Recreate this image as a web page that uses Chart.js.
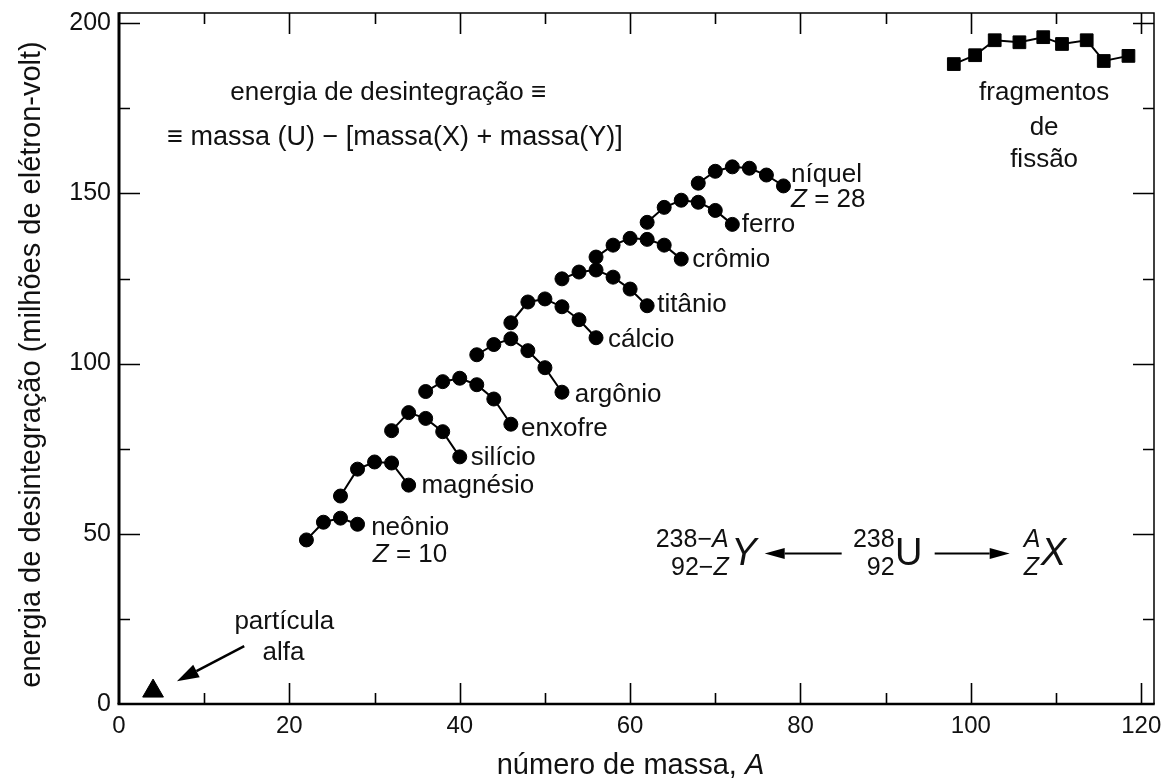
<!DOCTYPE html>
<html>
<head>
<meta charset="utf-8">
<script src="https://cdn.jsdelivr.net/npm/chart.js@4"></script>
<style>
  html, body { margin: 0; padding: 0; background: #fff; }
  #wrap { width: 1167px; height: 783px; }
</style>
</head>
<body>
<div id="wrap"><canvas id="c" width="1167" height="783"></canvas></div>
<script>
// ---- data ----
const neonA = [22, 24, 26, 28];
const neonE = [48.2, 53.4, 54.6, 52.8];
const magA = [26, 28, 30, 32, 34];
const magE = [61.1, 69.0, 71.1, 70.8, 64.3];
const siA = [32, 34, 36, 38, 40];
const siE = [80.3, 85.6, 83.9, 80.0, 72.6];
const sA = [36, 38, 40, 42, 44, 46];
const sE = [91.8, 94.7, 95.7, 93.8, 89.6, 82.2];
const arA = [42, 44, 46, 48, 50, 52];
const arE = [102.6, 105.6, 107.3, 103.8, 98.8, 91.6];
const caA = [46, 48, 50, 52, 54, 56];
const caE = [112.0, 118.1, 119.0, 116.7, 112.9, 107.6];
const tiA = [52, 54, 56, 58, 60, 62];
const tiE = [124.9, 126.9, 127.5, 125.4, 121.9, 117.0];
const crA = [56, 58, 60, 62, 64, 66];
const crE = [131.3, 134.8, 136.8, 136.5, 134.8, 130.7];
const feA = [62, 64, 66, 68, 70, 72];
const feE = [141.5, 145.9, 148.0, 147.4, 145.0, 140.9];
const niA = [68, 70, 72, 74, 76, 78];
const niE = [153.0, 156.5, 157.8, 157.4, 155.4, 152.2];
const fisA = [98, 100.5, 102.8, 105.7, 108.5, 110.7, 113.6, 115.6, 118.5];
const fisE = [188.0, 190.6, 195.0, 194.4, 195.9, 193.9, 195.0, 188.9, 190.4];
const alfaA = [4];
const alfaE = [3.8];

const xTicks = [0, 20, 40, 60, 80, 100, 120];
const yTicks = [0, 50, 100, 150, 200];
const xMinorStep = 10;
const yMinorStep = 25;

// ---- styling ----
const FONT = "'Liberation Sans', Arial, Helvetica, sans-serif";
const INK = '#111';
function fnt(size, italic) { return (italic ? 'italic ' : '') + size + 'px ' + FONT; }

function series(A, E, style, radius) {
  return {
    data: A.map((a, i) => ({ x: a, y: E[i] })),
    showLine: true,
    borderColor: '#000',
    borderWidth: 2,
    pointStyle: style,
    pointRadius: radius,
    pointHoverRadius: radius,
    pointBackgroundColor: '#000',
    pointBorderColor: '#000',
    pointBorderWidth: 1
  };
}

const datasets = [
  series(neonA, neonE, 'circle', 7),
  series(magA, magE, 'circle', 7),
  series(siA, siE, 'circle', 7),
  series(sA, sE, 'circle', 7),
  series(arA, arE, 'circle', 7),
  series(caA, caE, 'circle', 7),
  series(tiA, tiE, 'circle', 7),
  series(crA, crE, 'circle', 7),
  series(feA, feE, 'circle', 7),
  series(niA, niE, 'circle', 7),
  series(fisA, fisE, 'rect', 9),
  series(alfaA, alfaE, 'triangle', 12)
];

// annotation texts (positions in data units)
const labels = [
  { parts: [['neônio']], A: 29.6, E: 51.8 },
  { parts: [['Z', true], [' = 10']], A: 29.8, E: 43.8 },
  { parts: [['magnésio']], A: 35.5, E: 64.0 },
  { parts: [['silício']], A: 41.3, E: 72.2 },
  { parts: [['enxofre']], A: 47.2, E: 80.7 },
  { parts: [['argônio']], A: 53.5, E: 90.9 },
  { parts: [['cálcio']], A: 57.4, E: 107.0 },
  { parts: [['titânio']], A: 63.2, E: 117.3 },
  { parts: [['crômio']], A: 67.3, E: 130.4 },
  { parts: [['ferro']], A: 73.1, E: 140.9 },
  { parts: [['níquel']], A: 78.9, E: 155.6 },
  { parts: [['Z', true], [' = 28']], A: 78.9, E: 148.0 },
  { parts: [['fragmentos']], A: 108.6, E: 179.5, align: 'center' },
  { parts: [['de']], A: 108.6, E: 169.3, align: 'center' },
  { parts: [['fissão']], A: 108.6, E: 159.9, align: 'center' },
  { parts: [['partícula']], A: 19.4, E: 24.0, align: 'center' },
  { parts: [['alfa']], A: 19.3, E: 14.9, align: 'center' },
  { parts: [['energia de desintegração ≡']], A: 31.6, E: 179.5, align: 'center' },
  { parts: [['≡ massa (U) − [massa(X) + massa(Y)]']], A: 32.4, E: 166.4, align: 'center', size: 27 }
];

function drawRuns(ctx, parts, x, y, align, size) {
  let w = 0;
  for (const [t, it] of parts) { ctx.font = fnt(size, it); w += ctx.measureText(t).width; }
  let cx = align === 'center' ? x - w / 2 : (align === 'right' ? x - w : x);
  ctx.textAlign = 'left';
  for (const [t, it] of parts) {
    ctx.font = fnt(size, it);
    ctx.fillText(t, cx, y);
    cx += ctx.measureText(t).width;
  }
}

function arrow(ctx, x1, y1, x2, y2, headLen, headW) {
  const ang = Math.atan2(y2 - y1, x2 - x1);
  const bx = x2 - Math.cos(ang) * headLen, by = y2 - Math.sin(ang) * headLen;
  ctx.beginPath(); ctx.moveTo(x1, y1); ctx.lineTo(bx, by); ctx.stroke();
  ctx.beginPath();
  ctx.moveTo(x2, y2);
  ctx.lineTo(bx + Math.sin(ang) * headW, by - Math.cos(ang) * headW);
  ctx.lineTo(bx - Math.sin(ang) * headW, by + Math.cos(ang) * headW);
  ctx.closePath(); ctx.fill();
}

const decor = {
  id: 'decor',
  afterDraw(chart) {
    const { ctx, chartArea: a, scales: { x, y } } = chart;
    ctx.save();
    ctx.strokeStyle = '#000';
    ctx.fillStyle = INK;
    ctx.lineCap = 'butt';
    // frame
    ctx.lineWidth = 1.5;
    ctx.beginPath();
    ctx.moveTo(a.left, a.top); ctx.lineTo(a.right, a.top); ctx.lineTo(a.right, a.bottom);
    ctx.stroke();
    ctx.lineWidth = 3;
    ctx.beginPath(); ctx.moveTo(a.left, a.top - 0.75); ctx.lineTo(a.left, a.bottom); ctx.stroke();
    ctx.lineWidth = 2.5;
    ctx.beginPath(); ctx.moveTo(a.left - 1.5, a.bottom); ctx.lineTo(a.right + 0.75, a.bottom); ctx.stroke();
    // x ticks (bottom & top), inward
    ctx.lineWidth = 1.6;
    for (let v = xMinorStep; v <= x.max; v += xMinorStep) {
      const px = Math.round(x.getPixelForValue(v)) + 0.5;
      const major = xTicks.includes(v);
      const len = major ? 21 : 11;
      ctx.beginPath();
      ctx.moveTo(px, a.bottom); ctx.lineTo(px, a.bottom - len);
      ctx.moveTo(px, a.top); ctx.lineTo(px, a.top + len);
      ctx.stroke();
    }
    // y ticks (left & right), inward
    for (let v = yMinorStep; v <= y.max; v += yMinorStep) {
      const py = Math.round(y.getPixelForValue(v)) + 0.5;
      const major = yTicks.includes(v);
      const len = major ? 21 : 11;
      ctx.beginPath();
      ctx.moveTo(a.left, py); ctx.lineTo(a.left + len, py);
      ctx.moveTo(a.right, py); ctx.lineTo(a.right - len, py);
      ctx.stroke();
    }
    // axis titles
    ctx.textBaseline = 'middle';
    drawRuns(ctx, [['número de massa, '], ['A', true]], (a.left + a.right) / 2 - 6, 766, 'center', 29);
    ctx.save();
    ctx.translate(32, (a.top + a.bottom) / 2 + 6);
    ctx.rotate(-Math.PI / 2);
    drawRuns(ctx, [['energia de desintegração (milhões de elétron-volt)']], 0, 0, 'center', 29);
    ctx.restore();

    // labels
    for (const l of labels) {
      drawRuns(ctx, l.parts, x.getPixelForValue(l.A), y.getPixelForValue(l.E), l.align || 'left', l.size || 26);
    }

    // alpha arrow
    ctx.strokeStyle = '#000'; ctx.fillStyle = '#000'; ctx.lineWidth = 2.5;
    arrow(ctx, x.getPixelForValue(14.7), y.getPixelForValue(17.0),
               x.getPixelForValue(6.8), y.getPixelForValue(6.7), 22, 7);

    // reaction formula, anchored on the U
    const Px = x.getPixelForValue(92.7), Py = y.getPixelForValue(44.2);
    const big = 38, sm = 25;
    const supY = Py - 13, subY = Py + 15;
    ctx.fillStyle = INK;
    ctx.textBaseline = 'middle';
    drawRuns(ctx, [['U']], Px, Py + 1, 'center', big);
    drawRuns(ctx, [['238']], Px - 14, supY, 'right', sm);
    drawRuns(ctx, [['92']], Px - 14, subY, 'right', sm);
    drawRuns(ctx, [['Y', true]], Px - 152, Py + 1, 'right', big);
    drawRuns(ctx, [['238−'], ['A', true]], Px - 180, supY, 'right', sm);
    drawRuns(ctx, [['92−'], ['Z', true]], Px - 180, subY, 'right', sm);
    drawRuns(ctx, [['A', true]], Px + 115, supY, 'left', sm);
    drawRuns(ctx, [['Z', true]], Px + 115, subY, 'left', sm);
    drawRuns(ctx, [['X', true]], Px + 132, Py + 1, 'left', big);
    ctx.lineWidth = 2;
    ctx.fillStyle = '#000';
    arrow(ctx, Px - 67, Py, Px - 144, Py, 20, 5.5);
    arrow(ctx, Px + 26, Py, Px + 101, Py, 20, 5.5);
    ctx.restore();
  }
};

new Chart(document.getElementById('c'), {
  type: 'scatter',
  data: { datasets },
  options: {
    responsive: false,
    animation: false,
    events: [],
    layout: { padding: { top: 10, right: 9, bottom: 0, left: 0 } },
    plugins: { legend: { display: false }, tooltip: { enabled: false } },
    scales: {
      x: {
        type: 'linear', min: 0, max: 121.5,
        grid: { display: false, drawTicks: false },
        border: { display: false },
        afterBuildTicks: s => { s.ticks = xTicks.map(v => ({ value: v })); },
        afterFit: s => { s.height = 79; s.paddingLeft = 0; s.paddingRight = 0; },
        ticks: { autoSkip: false, maxRotation: 0, padding: 8, color: INK,
                 font: { family: FONT, size: 24 }, callback: v => String(v) }
      },
      y: {
        type: 'linear', min: 0, max: 203,
        grid: { display: false, drawTicks: false },
        border: { display: false },
        afterBuildTicks: s => { s.ticks = yTicks.map(v => ({ value: v })); },
        afterFit: s => { s.width = 119; s.paddingTop = 0; s.paddingBottom = 0; },
        ticks: { autoSkip: false, padding: 8, color: INK,
                 font: { family: FONT, size: 25 }, callback: v => String(v) }
      }
    }
  },
  plugins: [decor]
});
</script>
</body>
</html>
